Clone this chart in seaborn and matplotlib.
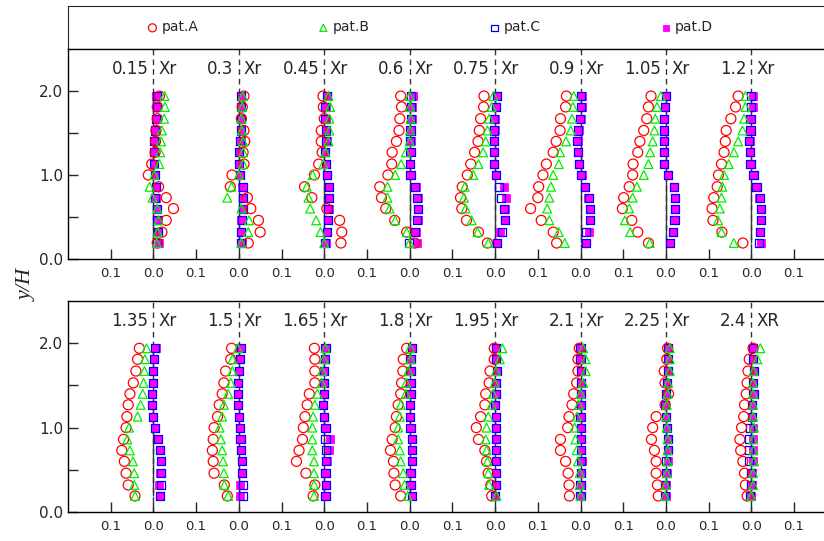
import numpy as np
import pandas as pd
import seaborn as sns
import matplotlib.pyplot as plt

# x/Xr stations, 8 per panel
stations = ["0.15", "0.3", "0.45", "0.6", "0.75", "0.9", "1.05", "1.2",
            "1.35", "1.5", "1.65", "1.8", "1.95", "2.1", "2.25", "2.4"]
suffixes = ["Xr", "Xr", "Xr", "Xr", "Xr", "Xr", "Xr", "Xr",
            "Xr", "Xr", "Xr", "Xr", "Xr", "Xr", "Xr", "XR"]

# measuring heights y/H (top row first)
y_levels = [1.94, 1.81, 1.67, 1.53, 1.40, 1.27, 1.13, 1.00, 0.86, 0.73, 0.60, 0.46, 0.32, 0.19]

# one row per station, one value per height
pat_a = [
    [0.014, 0.009, 0.009, 0.006, 0.005, 0.004, -0.004, -0.012, 0.012, 0.030, 0.047, 0.030, 0.020, 0.009],
    [0.012, 0.008, 0.006, 0.012, 0.014, 0.010, 0.012, -0.016, -0.020, 0.020, 0.028, 0.046, 0.050, 0.022],
    [-0.003, -0.002, 0.000, -0.007, -0.007, -0.005, -0.013, -0.023, -0.046, -0.029, 0.006, 0.036, 0.041, 0.039],
    [-0.021, -0.019, -0.023, -0.025, -0.031, -0.041, -0.042, -0.051, -0.070, -0.066, -0.056, -0.035, -0.007, 0.012],
    [-0.026, -0.027, -0.034, -0.037, -0.040, -0.048, -0.057, -0.065, -0.077, -0.081, -0.078, -0.067, -0.039, -0.018],
    [-0.033, -0.035, -0.047, -0.048, -0.057, -0.064, -0.080, -0.088, -0.098, -0.100, -0.117, -0.092, -0.064, -0.056],
    [-0.035, -0.041, -0.045, -0.052, -0.061, -0.066, -0.077, -0.078, -0.086, -0.099, -0.102, -0.080, -0.066, -0.041],
    [-0.031, -0.037, -0.048, -0.059, -0.061, -0.064, -0.070, -0.077, -0.080, -0.088, -0.092, -0.090, -0.069, -0.020],
    [-0.033, -0.037, -0.041, -0.047, -0.055, -0.059, -0.062, -0.064, -0.070, -0.074, -0.068, -0.064, -0.059, -0.043],
    [-0.017, -0.019, -0.031, -0.035, -0.039, -0.046, -0.050, -0.058, -0.060, -0.062, -0.060, -0.058, -0.034, -0.027],
    [-0.023, -0.022, -0.022, -0.022, -0.035, -0.040, -0.045, -0.049, -0.051, -0.059, -0.065, -0.043, -0.022, -0.026],
    [-0.007, -0.015, -0.016, -0.019, -0.021, -0.027, -0.031, -0.034, -0.041, -0.045, -0.038, -0.037, -0.034, -0.021],
    [-0.002, -0.002, -0.012, -0.014, -0.022, -0.024, -0.034, -0.044, -0.039, -0.024, -0.020, -0.016, -0.010, -0.008],
    [-0.003, -0.006, -0.006, -0.009, -0.016, -0.020, -0.027, -0.030, -0.047, -0.047, -0.035, -0.029, -0.027, -0.026],
    [0.004, 0.002, -0.004, -0.002, 0.006, -0.002, -0.023, -0.031, -0.034, -0.027, -0.023, -0.023, -0.020, -0.018],
    [0.004, -0.005, -0.008, -0.010, -0.012, -0.016, -0.018, -0.023, -0.027, -0.025, -0.020, -0.016, -0.014, -0.010],
]
pat_b = [
    [0.026, 0.027, 0.025, 0.020, 0.018, 0.016, 0.014, 0.002, -0.009, -0.002, 0.009, 0.012, 0.010, 0.008],
    [0.009, 0.008, 0.006, 0.007, 0.010, 0.010, 0.010, 0.000, -0.017, -0.027, 0.006, 0.024, 0.022, 0.006],
    [0.010, 0.014, 0.012, 0.012, 0.010, 0.003, -0.002, -0.027, -0.041, -0.037, -0.033, -0.019, -0.009, 0.000],
    [0.000, 0.001, 0.002, 0.001, 0.000, -0.009, -0.020, -0.034, -0.052, -0.052, -0.047, -0.034, -0.007, 0.000],
    [-0.004, -0.008, -0.014, -0.018, -0.022, -0.028, -0.039, -0.051, -0.071, -0.073, -0.069, -0.055, -0.041, -0.016],
    [-0.016, -0.018, -0.020, -0.023, -0.034, -0.048, -0.051, -0.064, -0.069, -0.073, -0.078, -0.073, -0.051, -0.037],
    [-0.012, -0.021, -0.025, -0.027, -0.031, -0.037, -0.041, -0.052, -0.068, -0.078, -0.086, -0.096, -0.084, -0.038],
    [-0.014, -0.014, -0.017, -0.021, -0.031, -0.041, -0.053, -0.064, -0.068, -0.070, -0.074, -0.078, -0.070, -0.041],
    [-0.016, -0.020, -0.021, -0.023, -0.025, -0.030, -0.037, -0.057, -0.061, -0.055, -0.048, -0.045, -0.045, -0.043],
    [-0.002, -0.015, -0.015, -0.019, -0.025, -0.035, -0.039, -0.045, -0.042, -0.039, -0.037, -0.035, -0.034, -0.025],
    [0.003, -0.001, -0.005, -0.006, -0.016, -0.022, -0.026, -0.028, -0.028, -0.028, -0.024, -0.024, -0.024, -0.024],
    [0.001, 0.002, -0.003, -0.008, -0.009, -0.021, -0.023, -0.027, -0.027, -0.023, -0.021, -0.015, -0.012, -0.005],
    [0.017, 0.011, 0.002, -0.001, -0.005, -0.008, -0.016, -0.020, -0.022, -0.020, -0.018, -0.016, -0.014, 0.003],
    [0.006, 0.012, 0.012, 0.006, 0.000, -0.004, -0.008, -0.014, -0.012, -0.009, -0.006, -0.002, -0.002, 0.000],
    [0.009, 0.009, 0.009, 0.005, 0.004, 0.002, 0.000, 0.002, 0.004, 0.004, 0.003, 0.002, 0.000, -0.002],
    [0.021, 0.014, 0.005, 0.004, 0.004, 0.004, 0.004, 0.006, 0.004, 0.005, 0.006, 0.004, 0.004, 0.000],
]
pat_c = [
    [0.008, 0.008, 0.007, 0.004, 0.002, 0.002, 0.002, 0.003, 0.006, 0.004, 0.008, 0.009, 0.010, 0.009],
    [0.006, 0.006, 0.006, 0.006, 0.003, 0.001, 0.000, 0.002, 0.009, 0.010, 0.009, 0.007, 0.005, 0.006],
    [0.006, 0.002, 0.002, 0.005, 0.004, 0.002, 0.004, 0.006, 0.011, 0.011, 0.008, 0.008, 0.006, 0.002],
    [0.003, 0.003, 0.003, 0.002, 0.001, 0.002, 0.000, 0.002, 0.012, 0.018, 0.020, 0.018, 0.012, -0.002],
    [0.004, 0.002, -0.002, -0.002, -0.002, -0.002, -0.002, 0.003, 0.009, 0.013, 0.021, 0.023, 0.017, 0.005],
    [0.002, 0.001, -0.001, -0.005, -0.008, -0.006, -0.004, 0.002, 0.010, 0.020, 0.022, 0.022, 0.012, 0.012],
    [0.000, -0.002, -0.004, -0.004, -0.004, -0.004, -0.004, 0.004, 0.018, 0.021, 0.021, 0.020, 0.016, 0.009],
    [0.000, 0.000, -0.002, -0.002, -0.006, -0.004, -0.002, 0.005, 0.012, 0.020, 0.022, 0.022, 0.020, 0.017],
    [0.004, 0.002, 0.000, -0.002, -0.004, -0.004, -0.002, 0.004, 0.010, 0.016, 0.017, 0.018, 0.018, 0.016],
    [0.005, 0.002, 0.000, -0.002, -0.002, -0.002, 0.000, 0.002, 0.004, 0.006, 0.008, 0.008, 0.010, 0.010],
    [0.003, 0.002, 0.000, 0.000, 0.000, -0.002, 0.000, 0.003, 0.003, 0.005, 0.005, 0.003, 0.005, 0.003],
    [0.005, 0.002, 0.002, 0.002, 0.002, 0.000, 0.000, 0.002, 0.005, 0.005, 0.005, 0.002, 0.002, 0.005],
    [0.003, 0.002, 0.005, 0.003, 0.002, -0.001, 0.002, 0.003, 0.003, 0.003, 0.003, 0.003, 0.002, 0.000],
    [0.000, 0.000, 0.001, 0.001, 0.001, 0.001, 0.000, 0.001, 0.002, 0.001, 0.001, 0.001, 0.000, 0.000],
    [0.005, 0.004, 0.004, 0.002, 0.000, -0.002, 0.000, 0.002, 0.004, 0.004, 0.000, 0.000, -0.002, -0.002],
    [0.004, 0.004, 0.006, 0.004, 0.005, 0.002, 0.002, -0.004, -0.005, -0.005, -0.005, 0.000, 0.000, -0.004],
]
pat_d = [
    [0.006, 0.008, 0.007, 0.005, 0.004, 0.001, 0.002, 0.004, 0.006, 0.005, 0.008, 0.010, 0.010, 0.012],
    [0.006, 0.006, 0.005, 0.006, 0.004, 0.000, 0.001, 0.003, 0.008, 0.010, 0.009, 0.006, 0.005, 0.008],
    [0.007, 0.003, 0.003, 0.005, 0.006, 0.002, 0.004, 0.006, 0.012, 0.012, 0.010, 0.009, 0.007, 0.005],
    [0.007, 0.005, 0.005, 0.004, 0.003, 0.003, 0.000, 0.003, 0.014, 0.020, 0.020, 0.019, 0.014, 0.017],
    [0.005, 0.003, -0.001, -0.001, -0.002, -0.002, -0.002, 0.003, 0.021, 0.025, 0.023, 0.022, 0.012, 0.005],
    [0.004, 0.003, 0.000, -0.003, -0.007, -0.006, -0.004, 0.003, 0.010, 0.018, 0.023, 0.022, 0.020, 0.012],
    [0.000, -0.002, -0.004, -0.004, -0.004, -0.004, -0.004, 0.004, 0.018, 0.021, 0.021, 0.020, 0.016, 0.009],
    [0.004, 0.004, -0.002, -0.002, -0.004, -0.004, -0.002, 0.005, 0.012, 0.018, 0.022, 0.022, 0.020, 0.022],
    [0.005, 0.002, 0.000, -0.002, -0.004, -0.004, -0.002, 0.004, 0.010, 0.016, 0.017, 0.016, 0.014, 0.016],
    [0.003, 0.003, 0.000, -0.002, -0.002, -0.002, 0.000, 0.002, 0.004, 0.006, 0.008, 0.008, 0.003, 0.003],
    [0.003, 0.002, 0.000, 0.000, 0.000, -0.002, 0.000, 0.003, 0.013, 0.012, 0.006, 0.003, 0.005, 0.003],
    [0.005, 0.002, 0.002, 0.002, 0.002, 0.000, 0.000, 0.002, 0.005, 0.005, 0.005, 0.002, 0.002, 0.006],
    [0.003, 0.002, 0.005, 0.003, 0.002, -0.001, 0.002, 0.003, 0.003, 0.003, 0.003, 0.003, 0.002, 0.000],
    [0.000, 0.000, 0.002, 0.002, 0.002, 0.002, 0.000, 0.002, 0.002, 0.002, 0.004, 0.002, 0.000, 0.000],
    [0.005, 0.004, 0.004, 0.002, 0.000, -0.002, 0.000, 0.002, 0.004, 0.004, 0.004, 0.002, 0.000, 0.000],
    [0.004, 0.004, 0.006, 0.004, 0.005, 0.002, 0.002, 0.004, 0.004, 0.004, 0.004, 0.002, 0.002, 0.000],
]

PER_PANEL = 8
SPACING = 0.2   # horizontal shift between profiles

# long-form table
rows = []
for name, arr in [("pat.A", pat_a), ("pat.B", pat_b), ("pat.C", pat_c), ("pat.D", pat_d)]:
    for k, st in enumerate(stations):
        offset = SPACING * (k % PER_PANEL)
        for y, v in zip(y_levels, arr[k]):
            rows.append({"pattern": name, "panel": k // PER_PANEL, "station": st,
                         "y": y, "x": offset + v})
df = pd.DataFrame(rows)

sns.set_style("ticks")
plt.rcParams['font.family'] = ['DejaVu Sans']

styles = {
    "pat.D": dict(marker="s", s=34, color="#ff00ff", facecolor="#ff00ff", edgecolor="#ff00ff", linewidth=0.6, zorder=3),
    "pat.C": dict(marker="s", s=34, color="#0000ff", facecolor="none", edgecolor="#0000ff", linewidth=0.9, zorder=4),
    "pat.A": dict(marker="o", s=52, color="#ff0000", facecolor="none", edgecolor="#ff0000", linewidth=0.9, zorder=5),
    "pat.B": dict(marker="^", s=40, color="#00ee00", facecolor="none", edgecolor="#00ee00", linewidth=0.9, zorder=6),
}

fig = plt.figure(figsize=(8.24, 5.41), dpi=100)
ax_leg = fig.add_axes([0.0825, 0.9094, 0.9175, 0.0796])
ax_top = fig.add_axes([0.0825, 0.5213, 0.9175, 0.3881])
ax_bot = fig.add_axes([0.0825, 0.0536, 0.9175, 0.3900])

xticks = np.round(np.arange(-0.1, 1.55, 0.1), 2)
xlabels = ["0.1" if i % 2 == 0 else "0.0" for i in range(len(xticks))]

for p, ax in enumerate([ax_top, ax_bot]):
    for name in ["pat.D", "pat.C", "pat.A", "pat.B"]:
        sub = df[(df["panel"] == p) & (df["pattern"] == name)]
        sns.scatterplot(data=sub, x="x", y="y", ax=ax, legend=False,
                        label=name if p == 0 else None, **styles[name])
    for j in range(PER_PANEL):
        k = p * PER_PANEL + j
        c = SPACING * j
        ax.axvline(c, color="#333333", ls=(0, (4, 3)), lw=1.0, zorder=1)
        ax.vlines(c, min(y_levels), max(y_levels), color="#333333", lw=1.0, zorder=1)
        ax.text(c - 0.012, 2.26, stations[k], ha="right", va="center", fontsize=12)
        ax.text(c + 0.012, 2.26, suffixes[k], ha="left", va="center", fontsize=12)

    ax.set_xlim(-0.2, 1.57)
    ax.set_ylim(0, 2.5)
    ax.set_xticks(xticks, xlabels)
    ax.set_yticks([0, 1, 2], ["0.0", "1.0", "2.0"])
    ax.set_yticks([0.5, 1.5], minor=True)
    ax.tick_params(axis="x", direction="in", length=7, width=1, labelsize=9.5, pad=6)
    ax.tick_params(axis="y", which="both", direction="in", length=7, width=1, labelsize=11)
    ax.set_xlabel("")
    ax.set_ylabel("")
    ax.spines["right"].set_visible(False)
    for sp in ["left", "top", "bottom"]:
        ax.spines[sp].set_linewidth(1)
        ax.spines[sp].set_color("black")

# legend strip
ax_leg.set_xticks([])
ax_leg.set_yticks([])
ax_leg.spines["right"].set_visible(False)
handles, labels = ax_top.get_legend_handles_labels()
order = [labels.index(n) for n in ["pat.A", "pat.B", "pat.C", "pat.D"]]
ax_leg.legend([handles[i] for i in order], [labels[i] for i in order],
              ncol=4, loc="center", bbox_to_anchor=(0.479, 0.5), frameon=False,
              fontsize=10, handlelength=0.8, handletextpad=0.3, columnspacing=8.55,
              scatterpoints=1, markerscale=0.8)

fig.text(0.033, 0.473, "y/H", rotation=90, fontsize=16, style="italic",
         family="Liberation Serif", ha="center", va="center")

fig.savefig("out.png", dpi=100)
